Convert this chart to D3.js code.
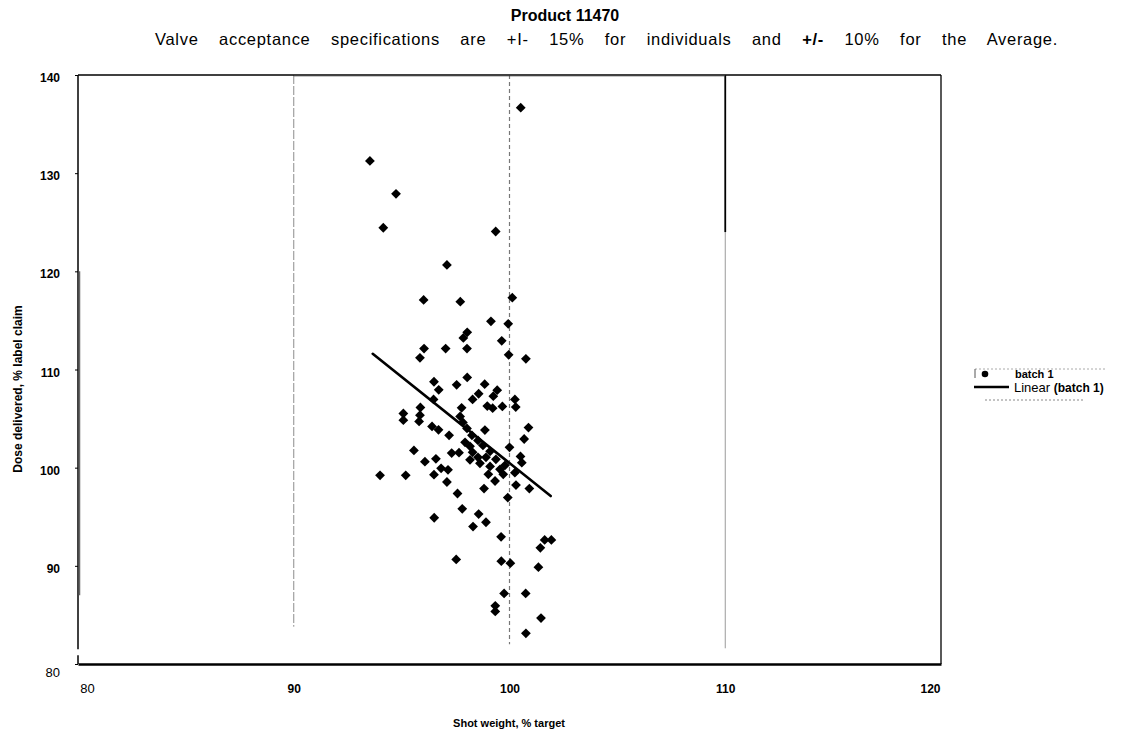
<!DOCTYPE html>
<html><head><meta charset="utf-8">
<script src="https://cdn.jsdelivr.net/npm/d3@7"></script>
<style>body{margin:0;background:#fff} svg{display:block} text{font-family:"Liberation Sans",Arial,sans-serif;fill:#000}</style>
</head><body><svg id="c" width="1131" height="733"></svg>
<script>
const shotWeight = [
100.52,93.53,94.74,94.15,99.36,97.10,96.02,97.72,100.13,99.14,
99.94,97.86,98.04,99.64,96.04,95.85,97.04,98.03,99.96,100.76,
96.50,96.72,97.55,98.04,98.85,98.57,98.29,99.43,99.25,98.97,
99.22,99.67,100.25,100.29,96.48,95.87,95.85,95.08,95.08,95.81,
97.78,96.41,96.71,97.20,98.86,100.88,100.68,100.00,95.57,96.08,
96.59,97.32,97.66,98.29,98.17,96.83,97.15,96.50,94.00,95.19,
97.10,97.59,98.82,99.02,99.33,99.71,100.25,100.30,100.92,99.92,
97.81,96.51,98.57,98.31,98.91,99.61,101.63,101.94,101.43,97.53,
99.62,100.04,101.34,99.75,100.75,99.34,99.34,101.46,100.76,100.51,
100.57,
97.71,97.84,98.03,98.26,98.54,97.94,98.17,98.77,99.10,98.91,98.54,99.37,99.10,99.56,98.63,99.79];
const doseDelivered = [
136.67,131.25,127.90,124.44,124.06,120.65,117.09,116.91,117.32,114.91,
114.65,113.22,113.79,112.92,112.13,111.19,112.13,112.13,111.49,111.09,
108.75,107.93,108.44,109.19,108.50,107.53,106.95,107.89,107.28,106.27,
106.06,106.24,106.95,106.17,106.95,106.13,105.35,105.52,104.84,104.71,
106.10,104.20,103.85,103.29,103.83,104.08,102.92,102.07,101.76,100.61,
100.90,101.49,101.53,101.56,100.80,99.93,99.78,99.29,99.22,99.22,
98.54,97.37,97.87,99.32,98.64,99.32,99.49,98.23,97.87,96.95,
95.81,94.90,95.27,94.00,94.44,92.96,92.64,92.64,91.83,90.65,
90.47,90.27,89.86,87.19,87.19,85.93,85.36,84.68,83.12,101.15,
100.51,
105.22,104.61,104.00,103.29,102.78,102.58,102.17,102.27,101.66,101.05,101.05,100.85,100.13,99.83,100.44,100.24];
const trendX = [93.66, 101.91];
const trendY = [111.60, 97.11];
const xTicks = [80, 90, 100, 110, 120];
const yTicks = [80, 90, 100, 110, 120, 130, 140];
const titleText = "Product 11470";
const subtitleParts = [["Valve acceptance specifications are +I- 15% for individuals and ", false], ["+/-", true], [" 10% for the Average.", false]];
const xTitle = "Shot weight, % target";
const yTitle = "Dose delivered, % label claim";
const seriesName = "batch 1";

const svg = d3.select("#c");
svg.append("rect").attr("width",1131).attr("height",733).attr("fill","#fff");
const x = d3.scaleLinear().domain([80,120]).range([78,941]);
const y = d3.scaleLinear().domain([80,140]).range([664,75]);

// titles
svg.append("text").attr("x",565).attr("y",21).attr("text-anchor","middle")
  .style("font-size","16px").style("font-weight","bold").text(titleText);
const sub = svg.append("text").attr("x",155).attr("y",45).style("font-size","16.5px").attr("letter-spacing",0.7);
subtitleParts.forEach(([t,b])=>sub.append("tspan").style("font-weight",b?"bold":"normal").text(t));
const len = sub.node().getComputedTextLength();
const gaps = subtitleParts.map(p=>p[0]).join("").split(" ").length-1;
sub.attr("word-spacing", Math.max(0, ((1058-155)-len)/gaps));

// spec lines
const vl = svg.append("g");
vl.append("line").attr("x1",x(90)).attr("x2",x(90)).attr("y1",y(140)).attr("y2",y(83.8))
  .attr("stroke","#8c8c8c").attr("stroke-width",1).attr("stroke-dasharray","9,2");
vl.append("line").attr("x1",x(100)).attr("x2",x(100)).attr("y1",y(140)).attr("y2",y(82))
  .attr("stroke","#777").attr("stroke-width",1.2).attr("stroke-dasharray","4,3");
vl.append("line").attr("x1",x(110)).attr("x2",x(110)).attr("y1",y(124)).attr("y2",y(81.6))
  .attr("stroke","#9a9a9a").attr("stroke-width",1);
vl.append("line").attr("x1",x(110)).attr("x2",x(110)).attr("y1",y(140)).attr("y2",y(124))
  .attr("stroke","#000").attr("stroke-width",1.8);

// frame
svg.append("line").attr("x1",x(80)).attr("x2",x(120)).attr("y1",y(140)).attr("y2",y(140)).attr("stroke","#000").attr("stroke-width",1.3);
svg.append("line").attr("x1",x(90)).attr("x2",x(110)).attr("y1",y(140)+0.8).attr("y2",y(140)+0.8).attr("stroke","#444").attr("stroke-width",1);
svg.append("line").attr("x1",x(120)).attr("x2",x(120)).attr("y1",y(140)).attr("y2",y(80)).attr("stroke","#000").attr("stroke-width",1.3);
svg.append("line").attr("x1",x(80)).attr("x2",x(80)).attr("y1",y(140)).attr("y2",y(81.5)).attr("stroke","#000").attr("stroke-width",1.5);
svg.append("line").attr("x1",x(80)).attr("x2",x(80)).attr("y1",y(80.9)).attr("y2",y(80)).attr("stroke","#000").attr("stroke-width",1.5);
svg.append("line").attr("x1",x(80)+1.5).attr("x2",x(80)+1.5).attr("y1",y(120)).attr("y2",y(87)).attr("stroke","#666").attr("stroke-width",1.5);

// axes
const xa = svg.append("g").attr("transform",`translate(0,${y(80)})`)
  .call(d3.axisBottom(x).tickValues(xTicks).tickSize(0).tickPadding(20));
xa.select(".domain").attr("stroke","#000").attr("stroke-width",2.6);
xa.selectAll("text").style("font-size","12px").style("font-weight","bold").style("font-family","Liberation Sans, Arial, sans-serif");
xa.selectAll("text").filter(d=>d===80).style("font-weight","normal").style("font-size","13px").attr("dx",9);
xa.selectAll("text").filter(d=>d===120).attr("dx",-11);

const ya = svg.append("g").attr("transform",`translate(${x(80)},0)`)
  .call(d3.axisLeft(y).tickValues(yTicks).tickSize(3).tickPadding(15));
ya.select(".domain").remove();
ya.selectAll("line").attr("stroke","#000");
ya.selectAll("text").style("font-size","12px").style("font-weight","bold").style("font-family","Liberation Sans, Arial, sans-serif").attr("dy","0.55em");
ya.selectAll("text").filter(d=>d===80).style("font-weight","normal").style("font-size","13px").attr("dy","0.95em");

svg.append("text").attr("x",509).attr("y",727).attr("text-anchor","middle")
  .style("font-size","11px").style("font-weight","bold").text(xTitle);
svg.append("text").attr("transform","translate(22,389) rotate(-90)").attr("text-anchor","middle")
  .style("font-size","12px").style("font-weight","bold").text(yTitle);

// points
const pts = shotWeight.map((v,i)=>[v, doseDelivered[i]]);
const sym = d3.symbol().type(d3.symbolSquare).size(48);
svg.append("g").selectAll("path").data(pts).join("path")
  .attr("d", sym).attr("fill","#000")
  .attr("transform", d=>`translate(${x(d[0])},${y(d[1])}) rotate(45)`);

// trend
svg.append("line").attr("x1",x(trendX[0])).attr("y1",y(trendY[0])).attr("x2",x(trendX[1])).attr("y2",y(trendY[1]))
  .attr("stroke","#000").attr("stroke-width",2.6).attr("stroke-linecap","round");

// legend
const lg = svg.append("g");
lg.append("line").attr("x1",975).attr("x2",1105).attr("y1",369).attr("y2",369).attr("stroke","#aaa").attr("stroke-dasharray","2,2");
lg.append("line").attr("x1",975).attr("x2",975).attr("y1",369).attr("y2",378).attr("stroke","#555");
lg.append("line").attr("x1",985).attr("x2",1085).attr("y1",400).attr("y2",400).attr("stroke","#888").attr("stroke-dasharray","2,2");
lg.append("circle").attr("cx",985).attr("cy",374).attr("r",3.3).attr("fill","#000");
lg.append("text").attr("x",1015).attr("y",378).style("font-size","11px").style("font-weight","bold").text(seriesName);
lg.append("line").attr("x1",974).attr("x2",1009).attr("y1",387).attr("y2",387).attr("stroke","#000").attr("stroke-width",2.6);
const lt = lg.append("text").attr("x",1014).attr("y",392).style("font-size","13px");
lt.append("tspan").text("Linear ");
lt.append("tspan").style("font-weight","bold").style("font-size","12px").text(`(${seriesName})`);
</script></body></html>
